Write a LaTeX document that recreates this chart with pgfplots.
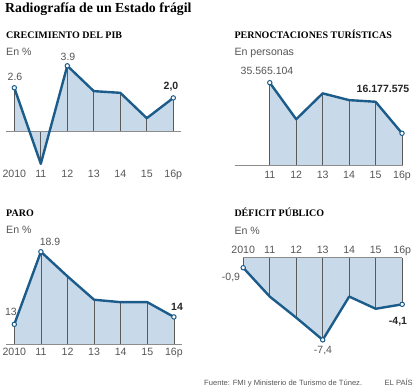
\documentclass[border=0pt]{standalone}
\usepackage{fontspec}
\setmainfont{Liberation Serif}
\setsansfont{Liberation Sans}
\usepackage{pgfplots}
\pgfplotsset{compat=1.18}
\definecolor{lineblue}{RGB}{28,92,138}
\definecolor{fillblue}{RGB}{200,218,234}
\definecolor{vgray}{RGB}{90,90,90}
\definecolor{bgray}{RGB}{140,140,140}
\definecolor{tgray}{RGB}{85,85,85}
\pgfplotsset{
  panel/.style={anchor=south west, clip=false,
    axis line style={draw=none}, major tick length=0pt, ytick=\empty,
    xmin=-0.3, xmax=6.3, xtick={0,...,6},
    xticklabels={2010,11,12,13,14,15,16p},
    xticklabel style={anchor=center, inner sep=0pt, text height=7.5pt, text depth=0pt,
      font=\sffamily\fontsize{10.6}{10.6}\selectfont, text=tgray},
  },
  fillst/.style={fill=fillblue, draw=none},
  combst/.style={ycomb, vgray, line width=0.65pt, mark=none},
  linest/.style={lineblue, line width=2.4pt, mark=none, line join=round},
  markst/.style={only marks, mark=*, mark size=2.2pt,
    mark options={fill=white, draw=lineblue, line width=1pt}},
}
\tikzset{
  lbl/.style={font=\sffamily\fontsize{10.5}{10.5}\selectfont, text=tgray, inner sep=0pt,
    text height=7.3pt, text depth=0pt, anchor=center},
  blbl/.style={font=\sffamily\bfseries\fontsize{10.5}{10.5}\selectfont, text=black!85, inner sep=0pt,
    text height=7.3pt, text depth=0pt, anchor=center},
  ptit/.style={font=\bfseries\fontsize{10}{10}\selectfont, inner sep=0pt, anchor=base west},
  sub/.style={font=\sffamily\fontsize{10.6}{10.6}\selectfont, text=tgray, inner sep=0pt, anchor=base west},
}
\begin{document}
\begin{tikzpicture}
\path[use as bounding box] (0,0) rectangle (414pt,-391pt);
% titles
\node[inner sep=0pt, anchor=base west, font=\bfseries\fontsize{13.8}{14}\selectfont] at (5pt,-12.5pt) {Radiografía de un Estado frágil};
\node[ptit] at (6pt,-38.3pt) {CRECIMIENTO DEL PIB};
\node[sub] at (6pt,-55pt) {En \%};
\node[ptit] at (234.3pt,-38.3pt) {PERNOCTACIONES TURÍSTICAS};
\node[sub] at (234.3pt,-55pt) {En personas};
\node[ptit] at (6pt,-216.7pt) {PARO};
\node[sub] at (6pt,-233pt) {En \%};
\node[ptit] at (234.3pt,-216.7pt) {DÉFICIT PÚBLICO};
\node[sub] at (234.3pt,-234pt) {En \%};
\node[inner sep=0pt, anchor=base west, font=\sffamily\fontsize{7.6}{7.6}\selectfont, text=tgray] at (204pt,-385pt) {Fuente: FMI y Ministerio de Turismo de Túnez.};
\node[inner sep=0pt, anchor=base east, font=\sffamily\fontsize{7.6}{7.6}\selectfont, text=tgray] at (413pt,-385pt) {EL PAÍS};

% Panel 1: PIB
\begin{axis}[panel, at={(6.35pt,-173.95pt)}, x=26.5pt, y=16.9pt, ymin=-2.5, ymax=4.2]
\addplot[fillst] coordinates {(0,0) (0,2.6) (1,-1.9) (2,3.9) (3,2.4) (4,2.3) (5,0.8) (6,2.0) (6,0)};
\addplot[combst] coordinates {(0,2.6) (1,-1.9) (2,3.9) (3,2.4) (4,2.3) (5,0.8) (6,2.0)};
\draw[bgray, line width=0.8pt] (axis cs:-0.3,0) -- (axis cs:6.3,0);
\addplot[linest] coordinates {(0,2.6) (1,-1.9) (2,3.9) (3,2.4) (4,2.3) (5,0.8) (6,2.0)};
\addplot[markst] coordinates {(0,2.6) (2,3.9) (6,2.0)};
\end{axis}
\node[lbl] at (15pt,-77pt) {2.6};
\node[lbl] at (68pt,-57.3pt) {3.9};
\node[blbl] at (171pt,-86pt) {2,0};

% Panel 2: Pernoctaciones
\begin{axis}[panel, at={(235.37pt,-175.04pt)}, x=26.45pt, y=2.334pt, ymin=-4, ymax=40,
  xtick={1,...,6}, xticklabels={11,12,13,14,15,16p}]
\addplot[fillst] coordinates {(1,0) (1,35.57) (2,19.9) (3,31.0) (4,28.1) (5,27.4) (6,13.9) (6,0)};
\addplot[combst] coordinates {(1,35.57) (2,19.9) (3,31.0) (4,28.1) (5,27.4) (6,13.9)};
\draw[bgray, line width=0.8pt] (axis cs:-0.3,0) -- (axis cs:6.05,0);
\addplot[linest] coordinates {(1,35.57) (2,19.9) (3,31.0) (4,28.1) (5,27.4) (6,13.9)};
\addplot[markst] coordinates {(1,35.57) (6,13.9)};
\end{axis}
\node[lbl] at (267pt,-71.3pt) {35.565.104};
\node[blbl] at (383pt,-89pt) {16.177.575};

% Panel 3: Paro
\begin{axis}[panel, at={(6.32pt,-344pt)}, x=26.6pt, y=12.3pt, ymin=11.4, ymax=20,
  xticklabel style={yshift=-7.7pt}]
\addplot[fillst] coordinates {(0,11.4) (0,13) (1,18.9) (2,16.9) (3,15.0) (4,14.8) (5,14.8) (6,13.6) (6,11.4)};
\addplot[combst] coordinates {(0,13) (1,18.9) (2,16.9) (3,15.0) (4,14.8) (5,14.8) (6,13.6)};
\draw[bgray, line width=0.8pt] (axis cs:-0.3,11.4) -- (axis cs:6.3,11.4);
\addplot[linest] coordinates {(0,13) (1,18.9) (2,16.9) (3,15.0) (4,14.8) (5,14.8) (6,13.6)};
\addplot[markst] coordinates {(0,13) (1,18.9) (6,13.6)};
\end{axis}
\node[lbl] at (50pt,-241.7pt) {18.9};
\node[lbl] at (11pt,-311.7pt) {13};
\node[blbl] at (177pt,-307pt) {14};

% Panel 4: Deficit
\begin{axis}[panel, at={(235.25pt,-352.05pt)}, x=26.5pt, y=11.1pt, ymin=-8.5, ymax=0.694,
  xticklabel pos=upper]
\addplot[fillst] coordinates {(0,0) (0,-0.9) (1,-3.5) (2,-5.4) (3,-7.4) (4,-3.5) (5,-4.6) (6,-4.2) (6,0)};
\addplot[combst] coordinates {(0,-0.9) (1,-3.5) (2,-5.4) (3,-7.4) (4,-3.5) (5,-4.6) (6,-4.2)};
\draw[bgray, line width=0.8pt] (axis cs:0,0) -- (axis cs:6,0);
\addplot[linest] coordinates {(0,-0.9) (1,-3.5) (2,-5.4) (3,-7.4) (4,-3.5) (5,-4.6) (6,-4.2)};
\addplot[markst] coordinates {(0,-0.9) (3,-7.4) (6,-4.2)};
\end{axis}
\node[lbl] at (231pt,-276.7pt) {-0,9};
\node[lbl] at (323pt,-350pt) {-7,4};
\node[blbl] at (398pt,-321pt) {-4,1};
\end{tikzpicture}
\end{document}
